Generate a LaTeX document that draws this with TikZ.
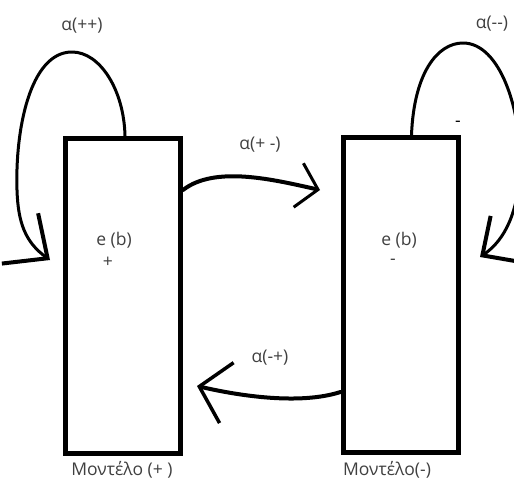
\documentclass[tikz,border=0pt]{standalone}
\usepackage{fontspec}
\setmainfont{Open Sans}
\usetikzlibrary{arrows.meta}
\tikzset{
  every picture/.style={line join=round, line cap=round},
  model/.style={draw, line width=5pt, line cap=butt, line join=miter, minimum width=115pt, minimum height=315pt, inner sep=0pt},
  lbl/.style={text=black!75, font=\fontsize{17.5}{20}\selectfont, inner sep=0pt},
  selfloop/.style={line width=3pt},
  jump/.style={line width=4pt},
}

\begin{document}
\begin{tikzpicture}[x=1pt,y=-1pt]
\useasboundingbox (0,0) rectangle (514,484);
% the two models
\node[model](lbox) at (123,296){};
\node[model](rbox) at (400.5,295){};
\node[lbl](lstate) at (114,240){e (b)};
\node[lbl](lsign) at (108,262){+};
\node[lbl](rstate) at (399,240){e (b)};
\node[lbl](rsign) at (393,262){-};
\node[lbl](lname) at (122,470){Μοντέλο (+ )};
\node[lbl](rname) at (387,470){Μοντέλο(-)};
\node[lbl,text=black](mark) at (458,124){-};
% rates
\node[lbl](app) at (82,26){α(++)};
\node[lbl](amm) at (492,24){α(-{}-)};
\node[lbl](apm) at (260,145){α(+ -)};
\node[lbl](amp) at (270,358){α(-+)};
\coordinate (ltip) at (50,260);
\coordinate (rtip) at (480,257);
\coordinate (ptip) at (320,190);
\coordinate (mtip) at (197,386);
% self loops
\draw[selfloop,-{Straight Barb[length=34pt,width=62pt,line width=4pt]}]([xshift=2pt]lbox.north)
 .. controls (124,90) and (100,52) .. (72,52)
 .. controls (30,52) and (15,130) .. (17,190)
 .. controls (18,222) and (25,242) .. (ltip);
\draw[selfloop,-{Straight Barb[length=29pt,width=56pt,line width=4pt]}]([xshift=11pt]rbox.north)
 .. controls (414,72) and (438,43) .. (463,43)
 .. controls (500,43) and (522,110) .. (520,170)
 .. controls (518,212) and (505,240) .. (rtip);
% jumps between the models
\draw[jump,-{Straight Barb[length=20pt,width=45pt,line width=3pt]}]([yshift=106pt]lbox.east)
 .. controls (215,165) and (275,180) .. (ptip);
\draw[jump,-{Straight Barb[length=28pt,width=62pt,line width=3.5pt]}]([yshift=-97pt]rbox.west)
 .. controls (300,405) and (240,396) .. (mtip);
\end{tikzpicture}
\end{document}
